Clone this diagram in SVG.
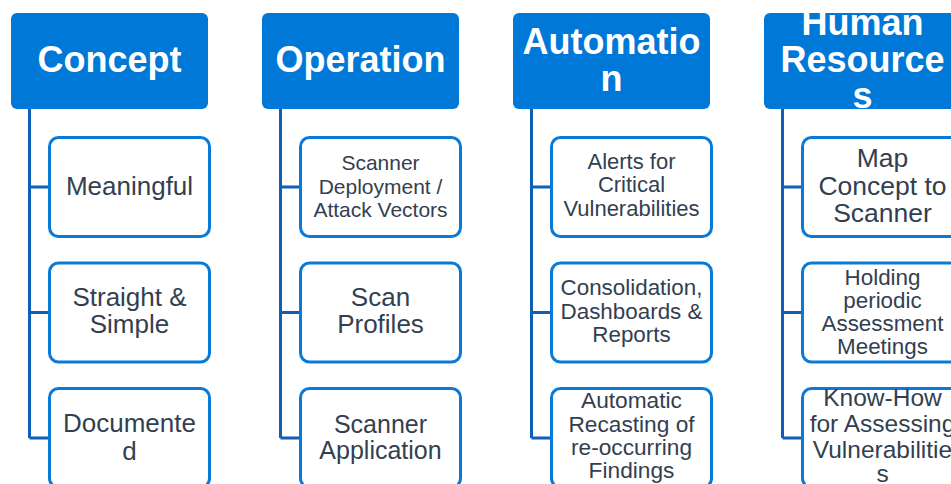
<svg xmlns="http://www.w3.org/2000/svg" width="951" height="484" viewBox="0 0 951 484">
<style>
.hdr{fill:#0078D7;}
.hdrt{fill:#FFFFFF;font-family:"Liberation Sans",Arial,sans-serif;font-weight:bold;font-size:36px;text-anchor:middle;}
.box{fill:#FFFFFF;stroke:#0A7AD8;stroke-width:3;}
.bt{fill:#333F50;font-family:"Liberation Sans",Arial,sans-serif;text-anchor:middle;}
.con{fill:none;stroke:#0E5FB7;stroke-width:3;}
</style>
<rect width="951" height="484" fill="#FFFFFF"/>
<g id="connectors">
<path class="con" d="M29.5,109 V438 M29.5,187 H49 M29.5,312.5 H49 M29.5,438 H49"/>
<path class="con" d="M280.5,109 V438 M280.5,187 H300 M280.5,312.5 H300 M280.5,438 H300"/>
<path class="con" d="M531.5,109 V438 M531.5,187 H551 M531.5,312.5 H551 M531.5,438 H551"/>
<path class="con" d="M782.5,109 V438 M782.5,187 H802 M782.5,312.5 H802 M782.5,438 H802"/>
</g>
<g id="concept">
<rect class="hdr" x="11" y="13" width="197" height="96" rx="6"/>
<text class="hdrt" x="109.5" y="72">Concept</text>
</g>
<g id="meaningful">
<rect class="box" x="49.5" y="137.5" width="160" height="99" rx="9"/>
<text class="bt" font-size="26" x="129.5" y="195">Meaningful</text>
</g>
<g id="straight">
<rect class="box" x="49.5" y="263" width="160" height="99" rx="9"/>
<text class="bt" font-size="26" x="129.5" y="306">Straight &amp;</text>
<text class="bt" font-size="26" x="129.5" y="333">Simple</text>
</g>
<g id="documented">
<rect class="box" x="49.5" y="388.5" width="160" height="99" rx="9"/>
<text class="bt" font-size="26" x="129.5" y="432">Documente</text>
<text class="bt" font-size="26" x="129.5" y="460">d</text>
</g>
<g id="operation">
<rect class="hdr" x="262" y="13" width="197" height="96" rx="6"/>
<text class="hdrt" x="360.5" y="72">Operation</text>
</g>
<g id="deployment">
<rect class="box" x="300.5" y="137.5" width="160" height="99" rx="9"/>
<text class="bt" font-size="21" x="380.5" y="170">Scanner</text>
<text class="bt" font-size="21" x="380.5" y="193.5">Deployment /</text>
<text class="bt" font-size="21" x="380.5" y="217">Attack Vectors</text>
</g>
<g id="profiles">
<rect class="box" x="300.5" y="263" width="160" height="99" rx="9"/>
<text class="bt" font-size="26" x="380.5" y="306">Scan</text>
<text class="bt" font-size="26" x="380.5" y="333">Profiles</text>
</g>
<g id="application">
<rect class="box" x="300.5" y="388.5" width="160" height="99" rx="9"/>
<text class="bt" font-size="25" x="380.5" y="433">Scanner</text>
<text class="bt" font-size="25" x="380.5" y="459">Application</text>
</g>
<g id="automation">
<rect class="hdr" x="513" y="13" width="197" height="96" rx="6"/>
<text class="hdrt" x="611.5" y="54">Automatio</text>
<text class="hdrt" x="611.5" y="91">n</text>
</g>
<g id="alerts">
<rect class="box" x="551.5" y="137.5" width="160" height="99" rx="9"/>
<text class="bt" font-size="22" x="631.5" y="168.5">Alerts for</text>
<text class="bt" font-size="22" x="631.5" y="192">Critical</text>
<text class="bt" font-size="22" x="631.5" y="215.5">Vulnerabilities</text>
</g>
<g id="consolidation">
<rect class="box" x="551.5" y="263" width="160" height="99" rx="9"/>
<text class="bt" font-size="22.4" x="631.5" y="295">Consolidation,</text>
<text class="bt" font-size="22.4" x="631.5" y="319">Dashboards &amp;</text>
<text class="bt" font-size="22.4" x="631.5" y="342">Reports</text>
</g>
<g id="recasting">
<rect class="box" x="551.5" y="388.5" width="160" height="99" rx="9"/>
<text class="bt" font-size="22.7" x="631.5" y="408">Automatic</text>
<text class="bt" font-size="22.7" x="631.5" y="432">Recasting of</text>
<text class="bt" font-size="22.7" x="631.5" y="455">re-occurring</text>
<text class="bt" font-size="22.7" x="631.5" y="478">Findings</text>
</g>
<g id="human-resources">
<rect class="hdr" x="764" y="13" width="197" height="96" rx="6"/>
<text class="hdrt" x="862.5" y="35">Human</text>
<text class="hdrt" x="862.5" y="72">Resource</text>
<text class="hdrt" x="862.5" y="108">s</text>
</g>
<g id="map-concept">
<rect class="box" x="802.5" y="137.5" width="160" height="99" rx="9"/>
<text class="bt" font-size="26.5" x="882.5" y="167">Map</text>
<text class="bt" font-size="26.5" x="882.5" y="195">Concept to</text>
<text class="bt" font-size="26.5" x="882.5" y="222">Scanner</text>
</g>
<g id="meetings">
<rect class="box" x="802.5" y="263" width="160" height="99" rx="9"/>
<text class="bt" font-size="22.4" x="882.5" y="285">Holding</text>
<text class="bt" font-size="22.4" x="882.5" y="308">periodic</text>
<text class="bt" font-size="22.4" x="882.5" y="331">Assessment</text>
<text class="bt" font-size="22.4" x="882.5" y="354">Meetings</text>
</g>
<g id="know-how">
<rect class="box" x="802.5" y="388.5" width="160" height="99" rx="9"/>
<text class="bt" font-size="24.5" x="882.5" y="406">Know-How</text>
<text class="bt" font-size="24.5" x="882.5" y="432">for Assessing</text>
<text class="bt" font-size="24.5" x="882.5" y="458">Vulnerabilitie</text>
<text class="bt" font-size="24.5" x="882.5" y="482">s</text>
</g>
</svg>
